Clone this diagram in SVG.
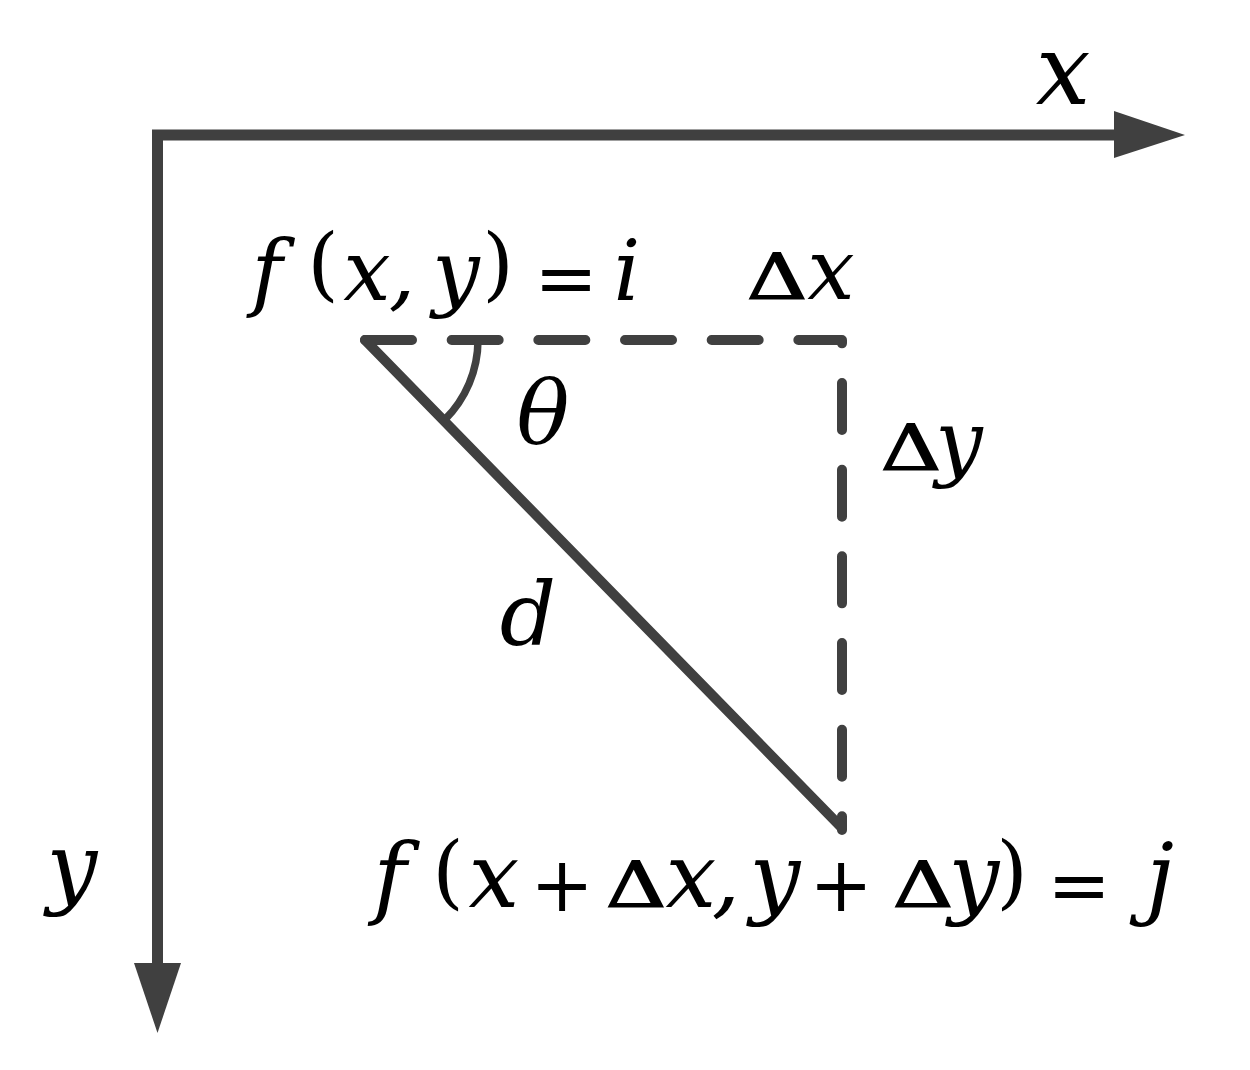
<svg xmlns="http://www.w3.org/2000/svg" width="1250" height="1070" viewBox="0 0 1250 1070">
<style>
.ax{fill:none;stroke:#404040;stroke-width:11;stroke-linejoin:miter}
.head{fill:#404040;stroke:none}
.solid{fill:none;stroke:#404040;stroke-width:10;stroke-linecap:round}
.dash{fill:none;stroke:#404040;stroke-width:10;stroke-linecap:round;stroke-linejoin:round;stroke-dasharray:47 39.67}
.arc{fill:none;stroke:#404040;stroke-width:7.5}
text{font-family:"DejaVu Serif",serif;fill:#000;text-anchor:middle}
.v{font-style:italic}
.r{font-style:normal}
.d{font-style:normal;font-size:64px;stroke:#000;stroke-width:1.2}
</style>
<rect width="1250" height="1070" fill="#fff"/>
<g id="connectors">
<path class="ax" d="M157.5,965 V135 H1116"/>
<polygon class="head" points="1114,111 1185,135 1114,158"/>
<polygon class="head" points="134,963 157.5,1033 181,963"/>
<path class="dash" d="M365,340 H842 V830"/>
<path class="solid" d="M365,340 L842,828"/>
<path class="arc" d="M478,340 A113,113 0 0 1 444.5,420"/>
</g>
<g id="axis-x-label"><text class="v" font-size="97" x="1063" y="104">x</text></g>
<g id="axis-y-label"><text class="v" font-size="90" x="72" y="897">y</text></g>
<g id="label-start">
<text class="v" font-size="84" y="300"><tspan x="267">f</tspan><tspan x="402">,</tspan></text>
<text class="r" font-size="81" y="291"><tspan x="323">(</tspan><tspan x="498">)</tspan></text>
<text class="v" font-size="84" y="300"><tspan x="367">x</tspan><tspan x="456">y</tspan><tspan x="627">i</tspan></text>
<text class="r" font-size="76" x="566" y="304">=</text>
</g>
<g id="label-dx">
<text class="d" transform="translate(777,299) scale(1.32,1)">Δ</text>
<text class="v" font-size="84" x="831" y="299">x</text>
</g>
<g id="label-dy">
<text class="d" transform="translate(911,470) scale(1.32,1)">Δ</text>
<text class="v" font-size="84" x="959" y="470">y</text>
</g>
<g id="label-theta"><text class="v" font-size="88" x="543" y="443">θ</text></g>
<g id="label-d"><text class="v" font-size="88" x="528" y="645">d</text></g>
<g id="label-end">
<text class="v" font-size="90" y="907"><tspan x="390">f</tspan><tspan x="494">x</tspan><tspan x="691">x</tspan><tspan x="726">,</tspan><tspan x="775">y</tspan><tspan x="974">y</tspan><tspan x="1160">j</tspan></text>
<text class="r" font-size="81" y="899"><tspan x="448">(</tspan><tspan x="1012">)</tspan></text>
<text class="r" font-size="76" y="911"><tspan x="562">+</tspan><tspan x="841">+</tspan><tspan x="1079">=</tspan></text>
<text class="d" transform="translate(636,907) scale(1.32,1)">Δ</text>
<text class="d" transform="translate(923,907) scale(1.32,1)">Δ</text>
</g>
</svg>
